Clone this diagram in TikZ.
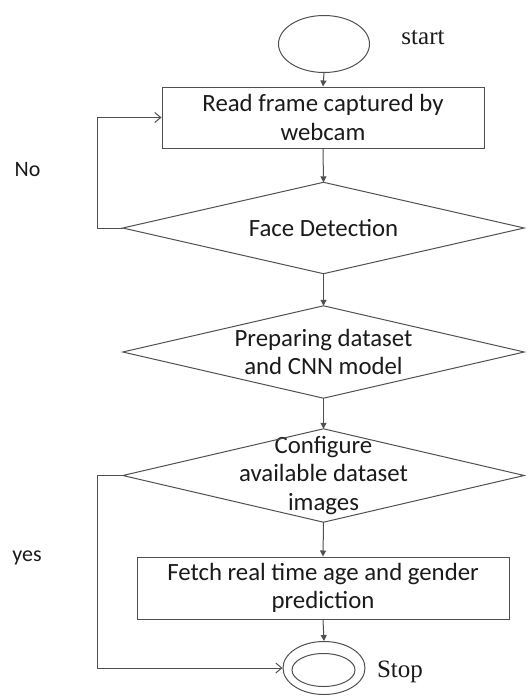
\documentclass[tikz,border=0pt]{standalone}
\usepackage{fontspec}
\setmainfont{Carlito}
\newfontfamily\termfont{Liberation Serif}
\usetikzlibrary{shapes.geometric,arrows.meta}
\definecolor{linec}{HTML}{505050}
\definecolor{textc}{HTML}{1A1A1A}
\begin{document}
\begin{tikzpicture}[x=1pt,y=-1pt]
\tikzset{
  flow/.style={draw=linec, line width=1pt},
  boxtext/.style={text=textc, align=center, font=\fontsize{24.8}{28.5}\selectfont},
  proc/.style={flow, boxtext, rectangle, inner sep=0pt},
  % a decision's frame is drawn through the anchors of this text node
  decision/.style={boxtext, rectangle, inner sep=0pt},
  terminal/.style={flow, ellipse, inner sep=0pt},
  arr/.style={draw=linec, line width=1pt, -{Triangle[length=6pt,width=6pt]}},
  back/.style={draw=linec, line width=1pt, -{Straight Barb[length=6pt,width=10pt,line width=1pt]}},
  termlabel/.style={text=textc, font=\termfont\fontsize{25}{29}\selectfont},
  branchlabel/.style={text=textc, font=\fontsize{22}{26}\selectfont}
}
\useasboundingbox (0,0) rectangle (531,696);

% start terminal
\node[terminal, minimum width=91pt, minimum height=57pt] (start) at (324,44) {};
\node[termlabel] (startlbl) at (423,38) {start};

% processing chain
\node[proc, minimum width=322pt, minimum height=61pt] (read) at (323,117.5)
  {Read frame captured by\\webcam};
\node[decision, minimum width=401pt, minimum height=91pt] (face) at (323.5,228)
  {Face Detection};
\node[decision, minimum width=401pt, minimum height=92pt] (prep) at (323.5,352)
  {Preparing dataset\\and CNN model};
\node[decision, minimum width=401pt, minimum height=93pt] (conf) at (323.5,475.5)
  {Configure\\available dataset\\images};
\node[proc, minimum width=372pt, minimum height=62pt] (fetch) at (323,588)
  {Fetch real time age and gender\\prediction};

% diamond outlines
\foreach \d in {face,prep,conf}
  \draw[flow, line join=miter] (\d.north) -- (\d.east) -- (\d.south) -- (\d.west) -- cycle;

% stop terminal (double ellipse)
\node[terminal, minimum width=82pt, minimum height=53pt] (stop) at (324,668) {};
\node[terminal, minimum width=63pt, minimum height=33pt] (stopin) at (323.5,670) {};
\node[termlabel] (stoplbl) at (400,672) {Stop};

% branch labels
\node[branchlabel] (no) at (27.5,170) {No};
\node[branchlabel] (yes) at (27,558) {yes};

% main flow
\draw[arr] (start.south) -- (read.north);
\draw[arr] (read.south) -- (face.north);
\draw[arr] (face.south) -- (prep.north);
\draw[arr] (prep.south) -- (conf.north);
\draw[arr] (conf.south) -- (fetch.north);
\draw[arr] (fetch.south) -- (stop.north);

% feedback and bypass loops
\coordinate (nocorner) at (97,228);
\coordinate (yescorner) at (97,475.5);
\draw[back] (face.west) -- (nocorner) |- (read.west);
\draw[back] (conf.west) -- (yescorner) |- (stop.west);
\end{tikzpicture}
\end{document}
